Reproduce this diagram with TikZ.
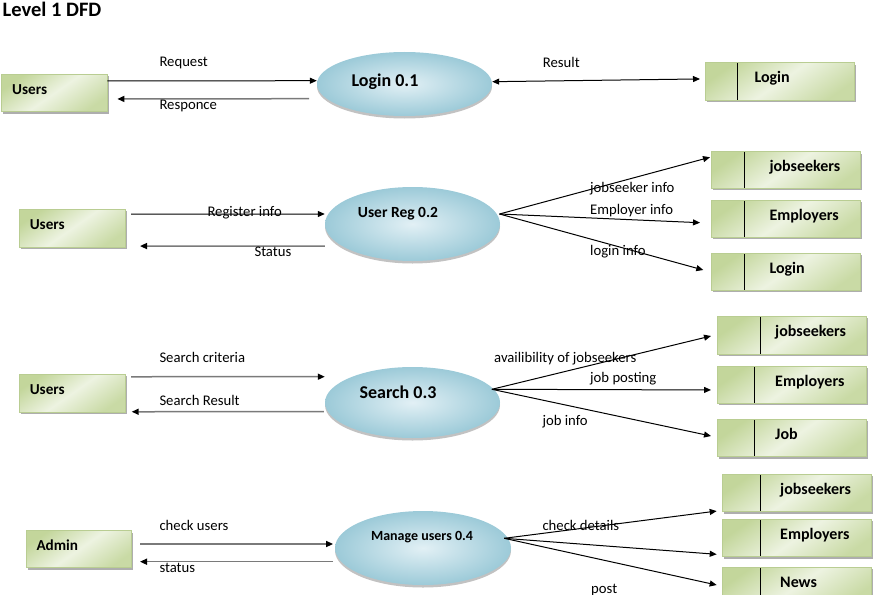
\documentclass[tikz,border=0pt]{standalone}
\usepackage{fontspec}
\setmainfont{Carlito}
\usetikzlibrary{arrows.meta,shapes.geometric,shadows}
\definecolor{gdark}{HTML}{C3D69B}
\definecolor{glight}{HTML}{EDF3E1}
\definecolor{gedge}{HTML}{B9CD92}
\definecolor{bdark}{HTML}{9CCAD8}
\definecolor{blight}{HTML}{E2F0F5}
\definecolor{lgrey}{HTML}{7A7A7A}
\newcommand\dfdlbl{\fontsize{14.7pt}{17pt}\selectfont}
\newcommand\dfdent{\fontsize{15.2pt}{18pt}\selectfont\bfseries}
\newcommand\dfdstore{\fontsize{16pt}{19pt}\selectfont\bfseries}
\begin{document}
\begin{tikzpicture}[x=1pt,y=-1pt,
  box/.style={rectangle, anchor=north west, inner sep=0pt, outer sep=0pt,
    draw=gedge, line width=0.5pt,
    top color=gdark, bottom color=gdark!90!white, middle color=glight, shading angle=35,
    drop shadow={shadow xshift=1.5pt, shadow yshift=-2pt, fill=black!45, opacity=0.7}},
  entity/.style={box, minimum width=105.7pt, minimum height=37.5pt},
  store/.style={box, minimum width=149pt, minimum height=37.5pt,
    path picture={\draw[line width=0.9pt, black]
      ([xshift=#1]path picture bounding box.north west) --
      ([xshift=#1]path picture bounding box.south west);}},
  etxt/.style={anchor=base west, inner sep=0pt, xshift=10.3pt, yshift=-1.6pt, font=\dfdent},
  stxt/.style={anchor=base west, inner sep=0pt, yshift=-1.5pt, font=\dfdstore},
  proc/.style={ellipse, inner sep=0pt, draw=none, inner color=blight, outer color=bdark,
    drop shadow={shadow xshift=0pt, shadow yshift=-2.5pt, fill=black!40, opacity=0.6}},
  ptxt/.style={anchor=base, inner sep=0pt, text height=0pt, text depth=0pt,
    font=\fontsize{18pt}{21pt}\selectfont\bfseries},
  lbl/.style={anchor=base west, inner sep=0pt, font=\dfdlbl},
  tip/.style={-{Triangle[length=7pt,width=6pt,color=black]}},
  arr/.style={tip, line width=1pt, black},
  garr/.style={tip, line width=1.5pt, lgrey},
]
\useasboundingbox (0,0) rectangle (877,594);
\clip (0,0) rectangle (877,594);

\node[anchor=base west, inner sep=0pt, font=\fontsize{20.5pt}{24pt}\selectfont\bfseries] (title) at (2.5,16.7) {Level 1 DFD};

% ---------- Row 1 ----------
\node[entity, label={[etxt]west:Users}] (u1) at (1.7,74) {};
\node[proc, minimum width=175pt, minimum height=64pt,
  label={[ptxt, xshift=-19.5pt, yshift=-2pt]center:Login 0.1}] (l1) at (404.5,84) {};
\node[store=31.6pt, label={[stxt, xshift=48.6pt]west:Login}] (s1) at (705.7,62.7) {};

% ---------- Row 2 ----------
\node[entity, label={[etxt]west:Users}] (u2) at (19.3,209.3) {};
\node[proc, minimum width=175pt, minimum height=74pt,
  label={[ptxt, font=\fontsize{15.5pt}{18pt}\selectfont\bfseries, xshift=-14.5pt, yshift=7pt]center:User Reg 0.2}] (r2) at (412.5,224) {};
\node[store=32.6pt, minimum height=36.5pt, label={[stxt, xshift=57.6pt]west:jobseekers}] (j2) at (711.7,151.7) {};
\node[store=32.6pt, minimum height=37pt, label={[stxt, xshift=57.6pt]west:Employers}] (e2) at (711.7,200) {};
\node[store=32.6pt, minimum height=37pt, label={[stxt, xshift=57.6pt]west:Login}] (g2) at (711.7,253) {};

% ---------- Row 3 ----------
\node[entity, label={[etxt]west:Users}] (u3) at (19.3,374.3) {};
\node[proc, minimum width=175pt, minimum height=71pt,
  label={[ptxt, xshift=-14.5pt, yshift=4.5pt]center:Search 0.3}] (s3) at (412.5,402.5) {};
\node[store=42.3pt, minimum height=38pt, label={[stxt, xshift=57.3pt]west:jobseekers}] (j3) at (717.7,316) {};
\node[store=36.6pt, minimum height=37.3pt, label={[stxt, xshift=57.3pt]west:Employers}] (e3) at (717.7,366) {};
\node[store=36.6pt, minimum height=37.4pt, label={[stxt, xshift=57.3pt]west:Job}] (b3) at (717.7,419.3) {};

% ---------- Row 4 ----------
\node[entity, minimum height=37pt, label={[etxt]west:Admin}] (a4) at (26,530.7) {};
\node[proc, minimum width=176pt, minimum height=74pt,
  label={[ptxt, font=\fontsize{14pt}{17pt}\selectfont\bfseries, xshift=-1pt, yshift=7.5pt]center:Manage users 0.4}] (m4) at (423,548) {};
\node[store=37.7pt, minimum width=149.4pt, minimum height=37.7pt, label={[stxt, xshift=57.7pt]west:jobseekers}] (j4) at (722.3,474) {};
\node[store=37.7pt, minimum width=149.4pt, minimum height=37.4pt, label={[stxt, xshift=57.7pt]west:Employers}] (e4) at (722.3,519.3) {};
\node[store=37.7pt, minimum width=149.4pt, minimum height=37.4pt, label={[stxt, xshift=57.7pt]west:News}] (n4) at (722.3,567.3) {};

% ---------- Connectors ----------
% row 1
\draw[arr] ([shift={(0,-11.8)}]u1.east) -- ([shift={(0,-3.3)}]l1.west);
\draw[garr] ([shift={(-7.7,14.7)}]l1.west) -- ([shift={(10,6.2)}]u1.east);
\draw[arr, {Triangle[length=7pt,width=6pt]}-{Triangle[length=7pt,width=6pt]}] ([shift={(0,-2.3)}]l1.east) -- ([shift={(-5.7,-2.5)}]s1.west);
% row 2
\draw[arr] ([shift={(6,-14)}]u2.east) -- ([shift={(0,-10)}]r2.west);
\draw[garr] ([shift={(0,22)}]r2.west) -- ([shift={(15,18)}]u2.east);
\draw[arr] ([shift={(-0.7,-10)}]r2.east) -- ([shift={(-1.7,-12.7)}]j2.west);
\draw[arr] ([shift={(-0.7,-10)}]r2.east) -- ([shift={(-11.7,4.2)}]e2.west);
\draw[arr] ([shift={(-0.7,-10)}]r2.east) -- ([shift={(-8.4,-1.5)}]g2.west);
% row 3
\draw[garr] ([shift={(6,-16.3)}]u3.east) -- ([shift={(0,-25.8)}]s3.west);
\draw[garr] ([shift={(-1,9.2)}]s3.west) -- ([shift={(6.7,18.7)}]u3.east);
\draw[arr] ([shift={(-8.3,-13.2)}]s3.east) -- ([shift={(-6.7,1)}]j3.west);
\draw[arr] ([shift={(-8.3,-13.2)}]s3.east) -- ([shift={(-6.7,5.3)}]e3.west);
\draw[arr] ([shift={(-8.3,-13.2)}]s3.east) -- ([shift={(-6.7,-2)}]b3.west);
% row 4
\draw[garr] ([shift={(8.3,-5.2)}]a4.east) -- ([shift={(-1.7,-4)}]m4.west);
\draw[garr] ([shift={(-1.7,13.7)}]m4.west) -- ([shift={(8.3,12.5)}]a4.east);
\draw[arr] ([shift={(-7,-9.7)}]m4.east) -- ([shift={(-5.6,18.2)}]j4.west);
\draw[arr] ([shift={(-7,-9.7)}]m4.east) -- ([shift={(-5.6,16.3)}]e4.west);
\draw[arr] ([shift={(-7,-9.7)}]m4.east) -- ([shift={(-5.6,-1)}]n4.west);

% ---------- Flow labels ----------
\node[lbl] (t1) at (159.3,66.7) {Request};
\node[lbl] (t2) at (159.3,109) {Responce};
\node[lbl] (t3) at (542.7,67.3) {Result};
\node[lbl] (t4) at (207.3,216) {Register info};
\node[lbl] (t5) at (254.3,256.7) {Status};
\node[lbl] (t6) at (590,192.7) {jobseeker info};
\node[lbl] (t7) at (590,214) {Employer info};
\node[lbl] (t8) at (590,255) {login info};
\node[lbl] (t9) at (159.3,362.7) {Search criteria};
\node[lbl] (t10) at (159.3,405) {Search Result};
\node[lbl] (t11) at (494,362.7) {availibility of jobseekers};
\node[lbl] (t12) at (590,382.7) {job posting};
\node[lbl] (t13) at (542.3,425) {job info};
\node[lbl] (t14) at (159.3,530.7) {check users};
\node[lbl] (t15) at (159.3,572.7) {status};
\node[lbl] (t16) at (542.3,530.7) {check details};
\node[lbl] (t17) at (591,593.5) {post};
\end{tikzpicture}
\end{document}
